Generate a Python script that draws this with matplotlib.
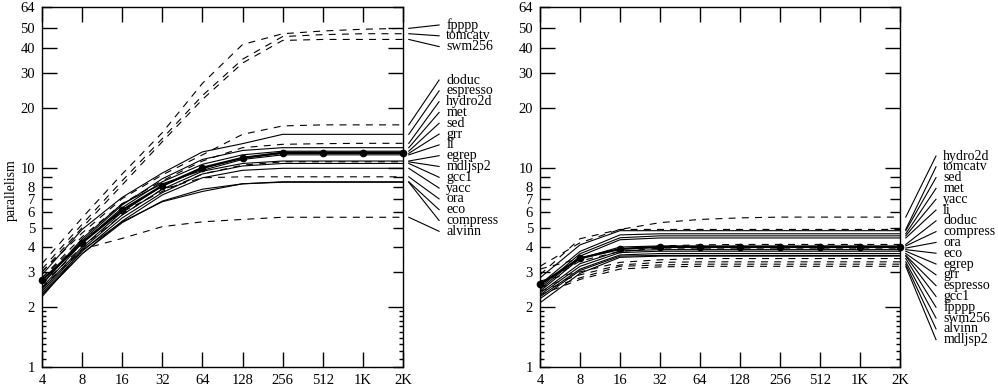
import matplotlib.pyplot as plt
import matplotlib.ticker as mticker
from matplotlib.transforms import blended_transform_factory

plt.rcParams['font.family'] = ['Liberation Serif', 'DejaVu Serif']
plt.rcParams['font.size'] = 10
plt.rcParams['lines.scale_dashes'] = False

# window sizes (x axis)
sizes = [4, 8, 16, 32, 64, 128, 256, 512, 1024, 2048]
size_labels = ['4', '8', '16', '32', '64', '128', '256', '512', '1K', '2K']

y_ticks = [1, 2, 3, 4, 5, 6, 7, 8, 9, 10, 20, 30, 40, 50, 64]
y_tick_labels = ['1', '2', '3', '4', '5', '6', '7', '8', '', '10', '20', '30', '40', '50', '64']

# floating point benchmarks get dashed lines
fp_benchmarks = ['fpppp', 'tomcatv', 'swm256', 'doduc', 'hydro2d', 'mdljsp2', 'ora', 'alvinn']

# left panel, in label order (top to bottom)
left_mean = [2.72, 4.2, 6.13, 8.12, 10.0, 11.2, 11.9, 11.9, 11.9, 11.9]
left_lines = {
    'fpppp':    [3.3, 5.6, 9.3, 15.0, 26.5, 41.5, 47.0, 48.5, 49.5, 50.0],
    'tomcatv':  [3.1, 5.2, 8.6, 14.0, 23.0, 35.0, 45.5, 46.5, 47.0, 47.0],
    'swm256':   [3.0, 5.0, 8.2, 13.5, 22.0, 33.5, 43.5, 44.0, 44.0, 44.0],
    'doduc':    [3.0, 4.7, 7.0, 9.2, 11.6, 14.7, 16.2, 16.4, 16.4, 16.4],
    'espresso': [2.9, 4.9, 7.1, 9.4, 12.0, 13.2, 14.7, 14.7, 14.7, 14.7],
    'hydro2d':  [2.8, 4.5, 6.6, 8.6, 10.8, 12.6, 13.1, 13.2, 13.25, 13.25],
    'met':      [2.6, 4.3, 6.5, 8.8, 11.0, 12.2, 12.6, 12.6, 12.6, 12.6],
    'sed':      [2.5, 4.2, 6.3, 8.5, 10.4, 11.6, 12.1, 12.1, 12.1, 12.1],
    'grr':      [2.45, 4.0, 6.0, 8.1, 9.9, 11.2, 11.8, 11.8, 11.8, 11.8],
    'li':       [2.6, 4.4, 6.6, 8.3, 9.7, 11.0, 11.6, 11.6, 11.6, 11.6],
    'egrep':    [2.4, 3.9, 5.8, 7.8, 9.6, 10.5, 10.8, 10.8, 10.8, 10.8],
    'mdljsp2':  [2.8, 4.3, 6.0, 7.6, 9.3, 10.3, 10.7, 10.7, 10.7, 10.7],
    'gcc1':     [2.35, 3.8, 5.6, 7.5, 9.3, 10.2, 10.5, 10.5, 10.5, 10.5],
    'yacc':     [2.3, 3.7, 5.4, 7.3, 8.9, 9.7, 9.93, 9.93, 9.93, 9.93],
    'ora':      [2.6, 4.0, 5.8, 7.8, 8.9, 9.0, 9.0, 9.0, 9.0, 9.0],
    'eco':      [2.25, 3.85, 5.35, 6.75, 7.6, 8.3, 8.5, 8.5, 8.5, 8.5],
    'compress': [2.3, 3.7, 5.3, 6.8, 7.8, 8.3, 8.45, 8.45, 8.45, 8.45],
    'alvinn':   [2.5, 3.9, 4.42, 5.06, 5.35, 5.5, 5.64, 5.64, 5.64, 5.64],
}

# right panel, in label order (top to bottom)
right_mean = [2.6, 3.51, 3.91, 4.0, 4.0, 4.0, 4.0, 4.0, 4.0, 4.0]
right_lines = {
    'hydro2d':  [3.2, 4.2, 4.9, 5.3, 5.5, 5.6, 5.65, 5.65, 5.65, 5.65],
    'tomcatv':  [2.9, 4.4, 4.9, 4.9, 4.9, 4.9, 4.9, 4.9, 4.9, 4.9],
    'sed':      [2.8, 4.1, 4.83, 4.83, 4.83, 4.83, 4.83, 4.83, 4.83, 4.83],
    'met':      [2.6, 3.8, 4.6, 4.66, 4.66, 4.66, 4.66, 4.66, 4.66, 4.66],
    'yacc':     [2.5, 3.7, 4.45, 4.55, 4.55, 4.55, 4.55, 4.55, 4.55, 4.55],
    'li':       [2.45, 3.6, 4.35, 4.44, 4.44, 4.44, 4.44, 4.44, 4.44, 4.44],
    'doduc':    [3.1, 3.5, 3.9, 4.05, 4.1, 4.12, 4.12, 4.12, 4.12, 4.12],
    'compress': [2.4, 3.5, 4.0, 4.05, 4.05, 4.05, 4.05, 4.05, 4.05, 4.05],
    'ora':      [2.6, 3.4, 3.8, 3.95, 3.95, 3.95, 3.95, 3.95, 3.95, 3.95],
    'eco':      [2.35, 3.3, 3.82, 3.88, 3.88, 3.88, 3.88, 3.88, 3.88, 3.88],
    'egrep':    [2.3, 3.2, 3.75, 3.81, 3.81, 3.81, 3.81, 3.81, 3.81, 3.81],
    'grr':      [2.25, 3.1, 3.65, 3.71, 3.71, 3.71, 3.71, 3.71, 3.71, 3.71],
    'espresso': [2.2, 3.05, 3.6, 3.63, 3.63, 3.63, 3.63, 3.63, 3.63, 3.63],
    'gcc1':     [2.1, 2.95, 3.55, 3.6, 3.6, 3.6, 3.6, 3.6, 3.6, 3.6],
    'fpppp':    [2.7, 3.0, 3.35, 3.45, 3.5, 3.5, 3.5, 3.5, 3.5, 3.5],
    'swm256':   [2.5, 2.9, 3.25, 3.35, 3.37, 3.37, 3.37, 3.37, 3.37, 3.37],
    'alvinn':   [2.4, 2.8, 3.2, 3.25, 3.28, 3.28, 3.28, 3.28, 3.28, 3.28],
    'mdljsp2':  [2.3, 2.75, 3.1, 3.18, 3.2, 3.2, 3.2, 3.2, 3.2, 3.2],
}

# label slots (axes fraction)
step = 0.0300
left_slots = [0.950 - step * i for i in range(3)] + [0.797 - step * i for i in range(15)]
right_slots = [0.586 - step * i for i in range(18)]


def draw_panel(ax, lines, mean, slots):
    for name, vals in lines.items():
        if name in fp_benchmarks:
            ax.plot(sizes, vals, color='black', lw=0.8, dashes=(5, 4.5))
        else:
            ax.plot(sizes, vals, color='black', lw=0.8)
    ax.plot(sizes, mean, color='black', lw=1.6, marker='o', ms=4.5, clip_on=False, zorder=5)

    ax.set_xscale('log', base=2)
    ax.set_yscale('log')
    ax.set_xlim(4, 2048)
    ax.set_ylim(1, 64)

    ax.xaxis.set_major_locator(mticker.FixedLocator(sizes))
    ax.xaxis.set_major_formatter(mticker.FixedFormatter(size_labels))
    ax.xaxis.set_minor_locator(mticker.NullLocator())
    ax.yaxis.set_major_locator(mticker.FixedLocator(y_ticks))
    ax.yaxis.set_major_formatter(mticker.FixedFormatter(y_tick_labels))
    ax.yaxis.set_minor_locator(mticker.FixedLocator([1.1, 1.2, 1.3, 1.4, 1.5, 1.6, 1.7, 1.8, 1.9]))
    ax.yaxis.set_minor_formatter(mticker.NullFormatter())

    ax.tick_params(which='both', direction='in', top=True, right=True, width=1.0, labelsize=10.5)
    ax.tick_params(axis='x', which='major', length=11, pad=5)
    ax.tick_params(axis='y', which='major', length=7, pad=5)
    ax.tick_params(axis='y', which='minor', length=3)
    for sp in ax.spines.values():
        sp.set_linewidth(1.0)

    # longer ticks at a few values
    for t, v in zip(ax.yaxis.get_major_ticks(), y_ticks):
        if v in (2, 10, 20, 30, 40, 50):
            t.tick1line.set_markersize(11)
            t.tick2line.set_markersize(11)

    # labels with connector lines
    blend = blended_transform_factory(ax.transAxes, ax.transData)
    for (name, vals), frac in zip(lines.items(), slots):
        ax.plot([1.016, 1.10], [vals[-1], 64 ** frac], color='black', lw=0.8,
                transform=blend, clip_on=False)
        ax.text(1.12, frac, name, transform=ax.transAxes, ha='left', va='center',
                fontsize=10)


fig = plt.figure(figsize=(9.98, 3.92), dpi=100)
ax1 = fig.add_axes([42 / 998, 25 / 392, 361 / 998, 360 / 392])
ax2 = fig.add_axes([540 / 998, 25 / 392, 360 / 998, 360 / 392])

draw_panel(ax1, left_lines, left_mean, left_slots)
draw_panel(ax2, right_lines, right_mean, right_slots)

fig.text(11 / 998, 1 - 190 / 392, 'parallelism', rotation=90, ha='center', va='center',
         fontsize=10)

fig.savefig('out.png', dpi=100)
